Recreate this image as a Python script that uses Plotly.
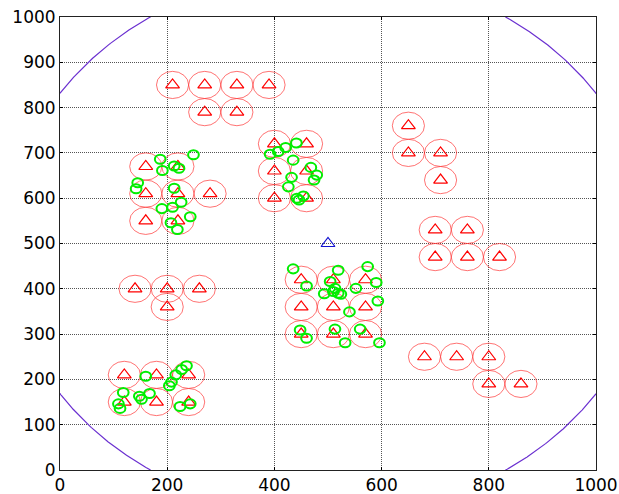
import numpy as np
import plotly.graph_objects as go

# Red anchor triangles (x, y)
anchor_x = [210, 270, 330, 390, 270, 330,
            160, 220, 160, 220, 280, 160, 220,
            400, 460, 400, 460, 400, 460,
            650, 650, 710, 710,
            700, 760, 700, 760, 820,
            680, 740, 800, 800, 860,
            450, 510, 570, 450, 510, 570, 450, 510, 570,
            140, 200, 260, 200,
            120, 180, 240, 120, 180, 240]
anchor_y = [850, 850, 850, 850, 790, 790,
            670, 670, 610, 610, 610, 550, 550,
            720, 720, 660, 660, 600, 600,
            760, 700, 700, 640,
            530, 530, 470, 470, 470,
            250, 250, 250, 190, 190,
            420, 420, 420, 360, 360, 360, 300, 300, 300,
            400, 400, 400, 360,
            210, 210, 210, 150, 150, 150]

# Green nodes (x, y)
node_x = [187, 191, 213, 222, 249, 145, 142, 213, 190, 210, 226, 243, 207, 219,
          441, 421, 407, 392, 435, 468, 479, 474, 432, 426, 454, 442, 446,
          435, 519, 574, 460, 504, 590, 493, 513, 519, 524, 552, 593, 540,
          448, 460, 513, 560, 532, 596, 510,
          160, 236, 227, 216, 208, 204, 118, 109, 112, 148, 152, 167, 224, 243]
node_y = [686, 661, 671, 666, 696, 634, 621, 622, 577, 580, 591, 559, 546, 531,
          722, 712, 703, 697, 684, 668, 651, 640, 646, 625, 605, 600, 596,
          444, 441, 449, 406, 416, 414, 389, 401, 390, 388, 401, 373, 349,
          309, 291, 311, 311, 281, 281, 394,
          207, 230, 222, 210, 194, 186, 171, 146, 136, 163, 156, 169, 140, 146]

# Base station and its communication range
bs_x = [500]
bs_y = [500]
range_radius = 600
field_min, field_max = 0, 1000

anchor_radius = 30
node_radius = 10

shapes = []
for x, y in zip(anchor_x, anchor_y):
    shapes.append(dict(type="circle", xref="x", yref="y",
                       x0=x - anchor_radius, x1=x + anchor_radius,
                       y0=y - anchor_radius, y1=y + anchor_radius,
                       line=dict(color="rgba(255,40,40,0.65)", width=1)))
for x, y in zip(node_x, node_y):
    shapes.append(dict(type="circle", xref="x", yref="y",
                       x0=x - node_radius, x1=x + node_radius,
                       y0=y - node_radius, y1=y + node_radius,
                       line=dict(color="#00ee00", width=2)))

# range circle, kept only inside the field (clipped manually)
theta = np.linspace(0, 2 * np.pi, 4001)
range_x = bs_x[0] + range_radius * np.cos(theta)
range_y = bs_y[0] + range_radius * np.sin(theta)
outside = (range_x < field_min) | (range_x > field_max) | (range_y < field_min) | (range_y > field_max)
range_x = np.clip(range_x, field_min, field_max).astype(float)
range_y = np.clip(range_y, field_min, field_max).astype(float)
# keep the first clipped point at each boundary crossing, blank the rest
keep = ~outside
edge = outside & (np.roll(~outside, 1) | np.roll(~outside, -1))
range_x[~(keep | edge)] = np.nan
range_y[~(keep | edge)] = np.nan

fig = go.Figure()
fig.add_trace(go.Scatter(x=range_x, y=range_y, mode="lines",
                         line=dict(color="#6a2fd0", width=1.2),
                         connectgaps=False,
                         showlegend=False, hoverinfo="skip"))
fig.add_trace(go.Scatter(x=anchor_x, y=anchor_y, mode="markers",
                         marker=dict(symbol="triangle-up-open", size=12,
                                     color="red", line=dict(width=1.2, color="red")),
                         showlegend=False))
fig.add_trace(go.Scatter(x=bs_x, y=bs_y, mode="markers",
                         marker=dict(symbol="triangle-up-open", size=12,
                                     color="#1010d0", line=dict(width=1.2, color="#1010d0")),
                         showlegend=False))

axis_common = dict(range=[field_min, field_max], showgrid=True, gridcolor="#555555",
                   griddash="1px,1px", gridwidth=1, zeroline=False, showline=True,
                   linecolor="#222222", linewidth=1, mirror="ticks", ticks="inside",
                   ticklen=3, tickcolor="black",
                   tickfont=dict(family="DejaVu Sans", size=17, color="black"),
                   ticklabeloverflow="allow",
                   automargin=False, fixedrange=True)

fig.update_layout(
    width=619, height=494,
    margin=dict(l=60, r=23, t=17, b=24),
    paper_bgcolor="white", plot_bgcolor="white",
    xaxis=dict(dtick=200, **axis_common),
    yaxis=dict(dtick=100, **axis_common),
    shapes=shapes,
)

fig.write_html(
    "out.html",
    config={"displayModeBar": False},
    post_script="document.body.style.margin='0px';document.body.style.overflow='hidden';",
)
